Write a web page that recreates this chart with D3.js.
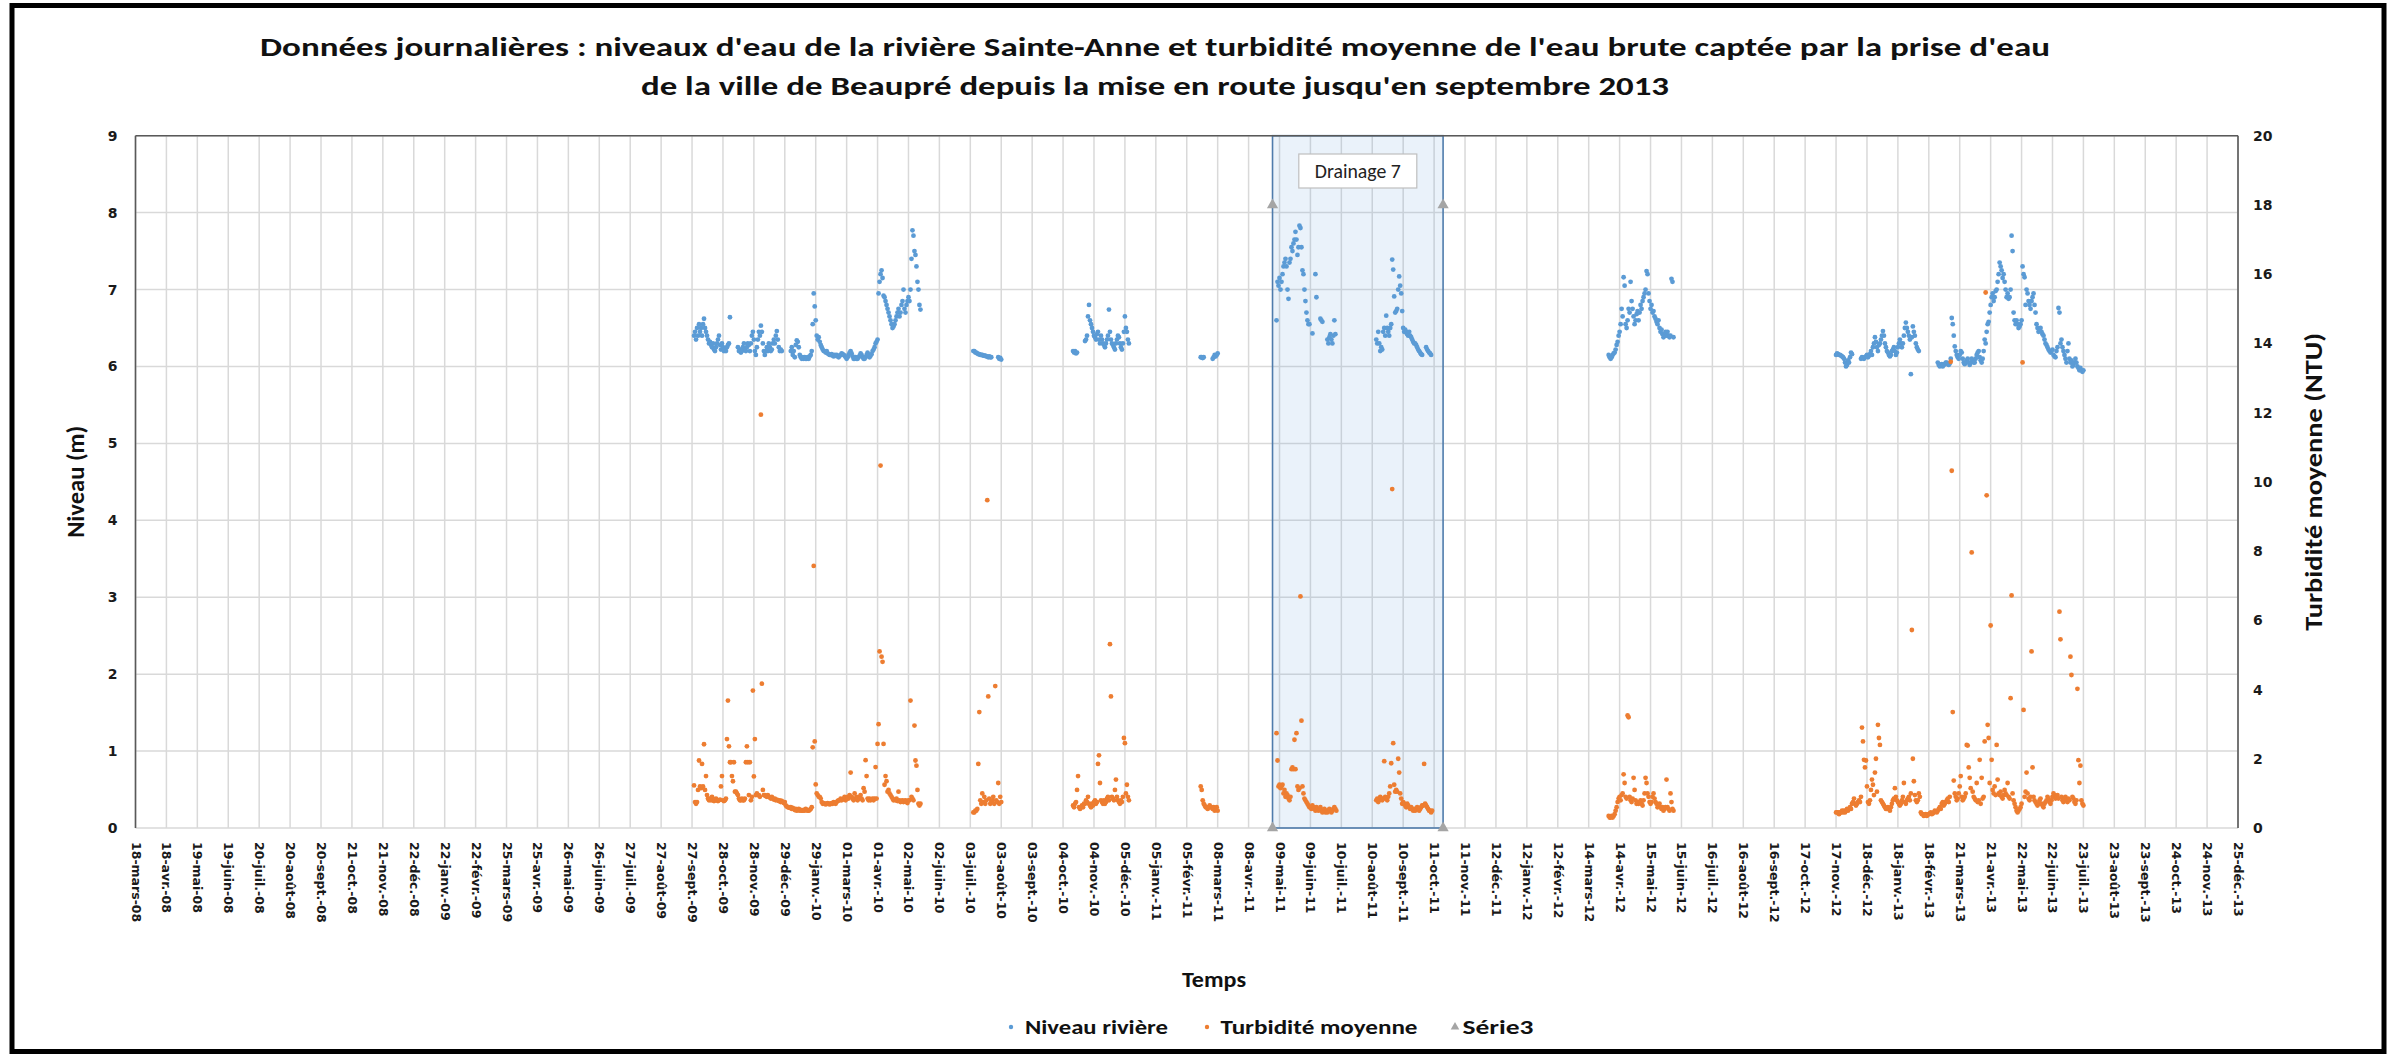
<!DOCTYPE html>
<html><head><meta charset="utf-8">
<script src="https://cdn.jsdelivr.net/npm/d3@7"></script>
<style>body{margin:0;background:#fff}svg{display:block}</style>
</head><body>
<svg id="c" width="2389" height="1054"></svg>
<script>
// ---------------- DATA ----------------
const axisStart = "2008-03-18", axisEnd = "2013-12-25", tickStepDays = 31;
const tickLabels = ["18-mars-08","18-avr.-08","19-mai-08","19-juin-08","20-juil.-08","20-août-08","20-sept.-08","21-oct.-08","21-nov.-08","22-déc.-08",
"22-janv.-09","22-févr.-09","25-mars-09","25-avr.-09","26-mai-09","26-juin-09","27-juil.-09","27-août-09","27-sept.-09","28-oct.-09","28-nov.-09","29-déc.-09",
"29-janv.-10","01-mars-10","01-avr.-10","02-mai-10","02-juin-10","03-juil.-10","03-août-10","03-sept.-10","04-oct.-10","04-nov.-10","05-déc.-10",
"05-janv.-11","05-févr.-11","08-mars-11","08-avr.-11","09-mai-11","09-juin-11","10-juil.-11","10-août-11","10-sept.-11","11-oct.-11","11-nov.-11","12-déc.-11",
"12-janv.-12","12-févr.-12","14-mars-12","14-avr.-12","15-mai-12","15-juin-12","16-juil.-12","16-août-12","16-sept.-12","17-oct.-12","17-nov.-12","18-déc.-12",
"18-janv.-13","18-févr.-13","21-mars-13","21-avr.-13","22-mai-13","22-juin-13","23-juil.-13","23-août-13","23-sept.-13","24-oct.-13","24-nov.-13","25-déc.-13"];

// first day of each run of daily measurements
const segmentStarts = ["2009-09-29","2010-07-06","2010-10-14","2011-02-19","2011-05-06","2011-08-14","2012-04-03","2012-11-17"];

// Niveau rivière (m), one value per day from the segment start (null = no data)
const niveau1 = [6.4,6.45,6.35,6.5,6.4,6.55,6.45,6.5,6.4,6.55,6.62,6.5,6.45,
6.4,6.35,6.3,6.32,6.28,6.25,6.3,6.22,6.2,6.25,6.3,6.35,6.4,6.28,6.22,
6.3,6.25,6.2,6.22,6.2,6.25,6.28,6.3,6.64,null,null,null,null,null,null,null,
6.25,6.2,6.22,6.18,6.2,6.25,6.3,6.22,6.2,6.25,6.3,6.28,6.2,
6.3,6.4,6.45,6.35,6.2,6.15,6.25,6.35,6.45,6.4,6.53,6.45,6.3,6.2,
6.15,6.2,6.25,6.2,6.3,6.25,6.2,6.22,6.3,6.35,6.3,6.4,6.46,6.35,6.25,6.2,6.22,6.2,
null,null,null,null,null,null,null,null,
6.2,6.25,6.15,6.2,6.12,6.28,6.34,6.32,6.25,6.15,6.12,
6.1,6.12,6.1,6.12,6.1,6.1,6.12,6.1,6.13,6.15,6.2,
6.55,6.95,6.78,6.6,6.4,6.35,6.38,6.32,6.28,6.25,6.22,6.2,
6.2,6.18,6.2,6.17,6.16,6.15,6.15,6.16,6.14,6.13,6.15,6.14,6.15,6.13,6.12,6.14,6.15,6.17,6.16,6.15,
6.14,6.12,6.1,6.12,6.15,6.18,6.2,6.17,6.13,6.1,6.1,6.12,6.1,6.1,6.12,6.14,6.17,6.15,6.12,6.1,6.1,6.12,6.15,6.18,6.15,6.12,6.14,6.16,
6.2,6.22,6.25,6.3,6.32,6.35,
6.95,7.1,7.2,7.25,7.15,6.92,6.9,6.85,6.8,6.75,6.7,6.65,6.6,6.55,6.5,6.52,
6.55,6.6,6.65,6.7,6.75,6.65,6.7,6.8,6.85,7.0,6.75,6.7,6.8,6.85,6.9,6.85,
7.0,7.4,7.77,7.7,7.5,7.45,7.3,7.1,7.0,6.8,6.74];
const niveau2 = [6.2,6.2,6.18,6.18,6.17,6.16,6.16,6.15,6.15,6.15,6.14,6.14,6.14,6.13,6.13,6.12,6.13,6.12,6.12,
null,null,null,null,null,null,6.12,6.1,6.11,6.09];
const niveau3 = [6.2,6.18,6.2,6.17,6.18,null,null,null,null,null,null,null,
6.33,6.35,6.4,6.65,6.8,6.6,6.55,6.5,6.45,6.4,6.38,6.35,6.42,6.45,6.35,6.3,6.4,6.35,6.3,6.28,
6.25,6.3,6.35,6.4,6.74,6.45,6.35,6.3,6.28,6.25,6.22,6.3,6.35,6.4,6.38,6.3,6.25,6.22,6.3,6.45,
6.65,6.5,6.45,6.35,6.3];
const niveau4 = [6.12,6.12,6.11,6.12,null,null,null,null,null,null,null,null,6.1,6.12,6.15,6.13,6.15,6.17];
const niveau5 = [6.6,7.1,7.05,7.15,7.0,7.1,7.2,7.3,7.35,7.4,7.3,7.0,6.88,7.35,7.4,
7.55,7.5,7.6,7.65,7.75,7.65,7.45,7.55,7.83,7.8,7.55,
7.25,7.2,7.0,6.85,6.7,6.6,6.55,6.55,null,null,6.43,null,null,7.2,6.9,null,null,null,
6.62,6.6,6.58,null,null,null,null,6.35,6.3,6.38,6.42,6.35,6.3,6.4,6.6,6.42];
const niveau6 = [6.35,6.3,6.45,6.3,6.2,6.25,6.22,6.45,6.5,6.4,
6.66,6.5,6.45,6.4,6.5,6.55,7.39,7.26,6.91,6.7,
6.72,6.75,7.0,7.17,7.05,6.95,6.72,6.5,6.45,6.48,
6.45,6.42,6.4,6.45,6.4,6.38,6.35,6.32,6.3,6.3,
6.28,6.25,6.22,6.2,6.18,6.16,6.15,null,null,null,
6.25,6.22,6.2,6.18,6.17,6.15];
const niveau7 = [6.15,6.12,6.1,6.12,6.15,6.17,6.18,6.22,6.28,6.32,
6.4,6.45,6.55,6.75,6.65,7.16,7.05,6.55,6.5,6.6,
6.75,6.7,7.1,6.85,6.75,6.65,6.55,6.6,6.68,6.72,
6.6,6.7,6.8,6.75,6.85,6.9,6.95,7.0,7.24,7.2,
6.95,6.85,6.75,6.8,6.7,6.72,6.65,6.62,6.58,6.55,
6.6,6.5,6.45,6.48,6.42,6.38,6.4,6.45,6.4,6.45,
6.4,6.38,6.4,7.14,7.1,6.38];
const niveau8 = [6.15,6.17,6.16,6.15,6.15,6.14,6.13,6.12,6.1,6.05,6.0,6.02,6.08,6.05,6.12,6.18,6.16,
null,null,null,null,null,null,null,null,
6.1,6.12,6.11,6.1,6.12,6.13,6.15,6.12,6.14,6.16,6.2,6.15,
6.25,6.3,6.38,6.32,6.25,6.2,6.28,6.3,6.35,6.4,6.46,6.4,6.3,6.25,6.2,6.18,
6.15,6.13,6.15,6.2,6.22,6.25,6.2,6.15,6.18,6.25,6.3,6.35,6.3,6.25,
6.3,6.4,6.5,6.57,6.5,6.45,6.4,6.35,5.9,6.38,6.52,6.45,6.4,6.3,6.25,6.22,6.2,
null,null,null,null,null,null,null,null,null,null,null,null,null,null,null,null,null,null,
6.05,6.02,6.0,6.02,6.03,6.0,6.02,6.03,6.05,6.05,6.03,6.02,6.04,6.1,
6.63,6.55,6.4,6.26,
6.2,6.15,6.12,6.1,6.15,6.2,6.18,6.1,6.05,6.03,6.05,6.08,6.1,6.05,6.02,6.05,6.1,6.08,6.05,6.05,6.1,6.15,6.18,6.2,6.12,6.08,6.05,6.1,6.2,6.35,6.3,6.45,
6.55,6.58,6.7,6.8,6.9,6.95,6.85,6.9,6.98,7.0,7.1,
7.2,7.35,7.3,7.25,7.15,7.2,7.1,
7.0,6.9,6.95,6.88,6.9,7.0,7.7,7.5,
6.7,6.6,6.55,6.6,6.55,6.5,6.52,6.55,6.6,
7.3,7.2,7.16,6.8,
7.0,6.95,6.85,6.8,6.75,6.85,6.9,6.95,6.8,6.7,
6.55,6.5,6.45,6.48,6.5,6.45,6.42,6.4,6.35,
6.3,6.28,6.25,6.22,6.2,6.18,6.2,6.22,6.15,6.13,6.12,6.2,6.25,
6.76,6.7,
6.3,6.35,6.25,6.2,6.15,6.1,6.05,6.2,6.3,
6.1,6.05,6.08,6.0,6.02,6.05,6.1,6.05,6.0,5.98,5.95,5.98,5.95,5.93,5.95];

// Turbidité moyenne (NTU), one value per day from the segment start
const turb1 = [1.23,0.75,0.7,0.75,1.1,1.95,1.2,1.15,1.85,1.2,2.42,1.1,1.5,0.95,
0.85,0.8,0.85,0.8,0.9,0.8,0.78,0.8,0.85,0.8,0.78,0.8,0.82,
1.2,1.5,0.8,0.78,0.8,0.85,
2.57,3.68,2.36,1.9,1.9,1.5,1.35,1.9,1.05,
1.05,1.0,0.95,0.85,0.8,0.8,0.85,0.8,0.8,0.85,
1.9,2.36,1.9,0.95,1.9,0.8,0.9,3.97,1.49,2.57,0.95,1.0,0.95,0.95,0.9,11.94,4.17,1.1,0.95,
0.95,0.92,0.9,0.95,0.9,0.88,0.85,0.9,0.85,0.82,0.85,0.8,0.82,0.8,0.78,0.8,0.75,0.78,0.75,0.72,0.75,
0.65,0.62,0.6,0.6,0.58,0.6,0.55,0.58,0.55,0.52,0.55,0.5,0.52,0.55,0.5,0.52,0.5,0.5,0.52,0.5,0.55,0.52,0.5,0.5,0.52,0.55,0.6,
2.33,7.57,2.5,1.26,
1.0,0.95,0.9,0.9,0.85,
0.75,0.7,0.72,0.7,0.68,0.7,0.72,0.7,0.68,0.7,0.72,0.7,0.75,0.72,0.7,0.75,0.78,0.8,
0.8,0.85,0.8,0.82,0.85,0.9,0.8,0.85,0.9,0.85,0.95,1.6,0.9,0.85,0.8,1.0,0.85,0.9,0.8,0.85,0.9,0.95,0.85,0.8,
1.15,1.05,1.96,1.5,0.85,0.8,0.85,0.8,0.82,0.85,0.8,0.85,
1.76,0.85,2.43,3.0,5.1,10.47,4.95,4.8,2.43,1.25,1.5,1.35,1.05,1.1,1.0,
0.95,0.9,0.85,0.8,0.82,0.8,0.85,0.78,1.05,0.8,0.75,0.78,0.8,0.75,0.78,0.8,0.75,0.72,0.8,0.8,
3.68,0.9,0.85,0.8,2.96,1.95,1.8,1.1,0.7,0.65,0.7];
const turb2 = [0.45,0.45,0.5,0.5,0.55,1.85,3.35,0.8,0.7,1.0,0.75,0.9,0.7,0.8,9.47,3.8,0.85,0.7,0.75,0.8,0.9,0.7,4.1,0.8,0.75,1.3,0.7,0.9,0.75];
const turb3 = [0.65,0.6,0.7,0.75,1.1,1.5,0.6,0.55,0.6,0.65,0.6,0.7,
0.7,0.8,0.75,0.9,0.7,0.65,0.6,0.7,0.65,0.75,0.8,0.7,0.75,
1.85,2.1,1.3,0.8,0.75,0.7,0.8,0.7,0.75,0.85,0.9,0.8,
5.31,3.8,0.9,0.85,0.8,1.1,1.4,0.9,0.8,0.75,0.7,0.8,0.75,0.9,
2.6,2.45,1.0,1.25,0.9,0.8];
const turb4 = [1.2,1.1,0.8,0.7,0.65,0.6,0.6,0.55,0.6,0.65,0.6,0.6,0.55,0.6,0.5,0.55,0.6,0.5];
const turb5 = [2.74,1.95,1.2,1.25,1.15,1.2,1.25,1.0,1.1,0.9,1.0,0.95,0.85,0.8,0.9,
1.7,1.75,1.7,2.55,1.7,2.74,1.2,1.1,1.15,6.69,3.1,1.2,1.0,0.85,0.8,0.75,0.7,0.65,0.6,
0.6,0.55,0.65,0.6,0.55,0.5,0.6,0.55,0.5,0.55,0.6,0.5,0.45,0.5,0.55,0.45,0.5,0.45,0.5,0.55,0.5,0.45,0.5,0.55,0.6,0.55,0.5];
const turb6 = [0.8,0.85,0.75,0.8,0.9,0.85,0.8,0.85,1.93,0.9,
0.85,0.8,0.9,1.0,1.2,1.87,9.79,2.45,1.25,1.05,
1.1,1.05,2.0,1.6,1.0,0.85,0.7,0.75,0.7,0.65,
0.6,0.7,0.65,0.6,0.55,0.6,0.55,0.5,0.55,0.5,
0.55,0.6,0.55,0.5,0.55,0.6,0.65,0.65,1.85,0.7,
0.65,0.6,0.55,0.5,0.5,0.45,0.5];
const turb7 = [0.35,0.3,0.3,0.35,0.3,0.35,0.4,0.5,0.6,0.75,
0.85,0.9,0.8,0.95,1.0,1.55,1.3,0.9,0.85,3.25,
3.2,0.9,0.8,0.75,0.85,1.45,1.1,0.8,0.7,0.75,
0.7,0.75,0.8,0.7,0.65,0.8,1.0,1.45,1.3,1.0,
0.9,0.75,0.7,0.75,0.9,1.0,0.85,0.75,0.7,0.6,
0.65,0.7,0.6,0.55,0.6,0.5,0.55,0.6,1.4,0.6,
0.55,0.5,1.0,0.75,0.55,0.5];
const turb8 = [0.45,0.45,0.45,0.4,0.45,0.45,0.5,0.45,0.5,0.45,0.5,0.55,0.5,0.55,0.6,0.55,
0.7,0.75,0.85,0.7,0.65,0.7,0.75,0.8,0.75,
0.9,2.9,2.5,1.97,1.75,1.95,1.2,0.75,0.7,0.8,1.1,1.4,1.25,0.95,1.6,2.0,1.05,2.98,2.6,2.4,0.8,0.75,
0.7,0.65,0.6,0.55,0.55,0.6,0.55,0.5,0.6,0.7,0.8,0.85,
1.15,0.9,0.8,0.75,0.7,0.65,0.7,0.8,0.9,1.3,0.75,0.7,0.8,0.85,0.9,0.8,1.0,5.72,2.0,1.35,0.95,0.8,0.75,0.8,1.0,0.9,
0.45,0.4,0.4,0.35,0.38,0.4,0.35,0.38,0.4,0.42,0.45,0.4,0.42,0.45,0.5,0.48,0.45,0.5,0.55,0.6,0.55,
0.7,0.75,0.65,0.7,0.75,0.8,0.85,0.75,0.9,
13.47,10.32,3.35,1.37,
1.0,0.9,0.8,0.85,1.0,1.2,1.5,0.9,0.8,0.85,0.9,1.0,
2.4,2.38,1.75,1.45,1.15,7.96,1.05,0.9,0.85,0.8,
1.3,0.75,0.8,1.97,0.7,1.45,0.85,0.9,2.5,15.47,
9.61,2.98,2.6,1.3,5.85,1.97,1.1,1.0,1.2,0.95,2.4,1.4,1.0,0.95,1.05,0.9,
0.85,0.95,1.1,1.0,0.95,1.3,0.9,0.85,3.75,6.72,1.0,0.8,
0.7,0.6,0.5,0.45,0.5,0.55,0.6,0.7,
13.45,3.41,0.9,1.05,1.6,1.0,0.85,0.8,0.9,5.1,1.75,0.9,
0.8,0.75,0.7,0.65,0.7,0.8,0.85,0.7,0.65,0.6,0.7,0.75,0.8,0.9,0.85,0.75,0.7,0.8,0.9,1.0,0.95,0.85,
0.9,0.95,0.85,6.25,5.45,0.9,0.8,0.75,0.85,0.9,0.8,0.75,0.85,
0.8,4.95,4.42,0.9,0.85,0.75,0.7,0.8,4.02,1.96,1.3,1.8,0.8,0.7,0.65];

// Série3 : bornes de la période "Drainage 7"
const drainageLabel = "Drainage 7";
const serie3Dates = ["2011-05-02","2011-05-02","2011-10-20","2011-10-20"];
const serie3Values = [0, 18, 18, 0];

const niveauSegments = [niveau1,niveau2,niveau3,niveau4,niveau5,niveau6,niveau7,niveau8];
const turbSegments = [turb1,turb2,turb3,turb4,turb5,turb6,turb7,turb8];

// ---------------- DRAWING ----------------
const W = 2389, H = 1054;
const P = {l:135.5, r:2238, t:135.7, b:828};
const parse = d3.utcParse("%Y-%m-%d");
const x = d3.scaleUtc().domain([parse(axisStart), parse(axisEnd)]).range([P.l, P.r]);
const yL = d3.scaleLinear().domain([0, 9]).range([P.b, P.t]);
const yR = d3.scaleLinear().domain([0, 20]).range([P.b, P.t]);
const tickDates = tickLabels.map((_, i) => d3.utcDay.offset(parse(axisStart), i * tickStepDays));

const CAL = "Carlito, 'Liberation Sans Narrow', 'Liberation Sans', Arial, sans-serif";
const VER = "'DejaVu Sans', Verdana, sans-serif";

const svg = d3.select("#c");
svg.append("rect").attr("width", W).attr("height", H).attr("fill", "#fff");

// gridlines
const grid = svg.append("g");
grid.selectAll("line.h").data(yL.ticks(9)).join("line").attr("class","h")
  .attr("x1", P.l).attr("x2", P.r).attr("y1", d => yL(d)).attr("y2", d => yL(d))
  .attr("stroke", "#d9d9d9").attr("stroke-width", 1.5);
grid.selectAll("line.v").data(tickDates).join("line").attr("class","v")
  .attr("x1", d => x(d)).attr("x2", d => x(d)).attr("y1", P.t).attr("y2", P.b)
  .attr("stroke", "#d9d9d9").attr("stroke-width", 1.5);

// drainage period band
const dx0 = x(parse(serie3Dates[0])), dx1 = x(parse(serie3Dates[2]));
svg.append("rect").attr("x", dx0).attr("y", P.t).attr("width", dx1 - dx0).attr("height", P.b - P.t)
  .attr("fill", "#5b9bd5").attr("fill-opacity", 0.13)
  .attr("stroke", "#4f7cac").attr("stroke-width", 1.6);

function toPoints(segs) {
  return segs.flatMap((vals, k) => vals.map((v, i) => ({date: d3.utcDay.offset(parse(segmentStarts[k]), i), v}))
    .filter(p => p.v != null));
}
svg.append("g").selectAll("circle").data(toPoints(niveauSegments)).join("circle")
  .attr("cx", d => x(d.date)).attr("cy", d => yL(d.v)).attr("r", 2.4).attr("fill", "#5b9bd5");
svg.append("g").selectAll("circle").data(toPoints(turbSegments)).join("circle")
  .attr("cx", d => x(d.date)).attr("cy", d => yR(d.v)).attr("r", 2.4).attr("fill", "#ed7d31");

// plot frame
const frame = svg.append("g").attr("stroke", "#595959").attr("stroke-width", 1.6);
frame.append("line").attr("x1", P.l).attr("x2", P.r).attr("y1", P.t).attr("y2", P.t);
frame.append("line").attr("x1", P.l).attr("x2", P.l).attr("y1", P.t).attr("y2", P.b);
frame.append("line").attr("x1", P.r).attr("x2", P.r).attr("y1", P.t).attr("y2", P.b);

// Série3 triangles
const tri = d3.symbol().type(d3.symbolTriangle).size(55);
svg.append("g").selectAll("path").data(serie3Dates.map((d, i) => ({d: parse(d), v: serie3Values[i]}))).join("path")
  .attr("d", tri).attr("transform", d => `translate(${x(d.d)},${yR(d.v)})`).attr("fill", "#a5a5a5");

// label box
const bx = (dx0 + dx1) / 2;
svg.append("rect").attr("x", bx - 59).attr("y", 154).attr("width", 118).attr("height", 34)
  .attr("fill", "#fff").attr("stroke", "#bfbfbf").attr("stroke-width", 1.2);
svg.append("text").attr("x", bx).attr("y", 178).attr("text-anchor", "middle")
  .attr("font-family", CAL).attr("font-size", 20).attr("fill", "#222")
  .attr("textLength", 86).attr("lengthAdjust", "spacingAndGlyphs").text(drainageLabel);

// axes
const axL = svg.append("g").attr("transform", `translate(${P.l},0)`)
  .call(d3.axisLeft(yL).ticks(9).tickSize(0).tickPadding(18));
const axR = svg.append("g").attr("transform", `translate(${P.r},0)`)
  .call(d3.axisRight(yR).ticks(10).tickSize(0).tickPadding(15));
const axB = svg.append("g").attr("transform", `translate(0,${P.b})`)
  .call(d3.axisBottom(x).tickValues(tickDates).tickFormat((d, i) => tickLabels[i]).tickSize(0));
[axL, axR, axB].forEach(a => {
  a.select(".domain").remove();
  a.selectAll("text").attr("font-family", VER).attr("font-weight", "bold").attr("fill", "#1a1a1a");
});
axL.selectAll("text").attr("font-size", 14);
axR.selectAll("text").attr("font-size", 14);
axB.selectAll("text").attr("font-size", 12.5)
  .attr("transform", "rotate(90)").attr("x", 14).attr("y", 0).attr("dy", "0.36em").attr("text-anchor", "start");

// titles
const title = svg.append("g").attr("font-family", CAL).attr("font-weight", "bold").attr("fill", "#111")
  .attr("font-size", 27).attr("text-anchor", "middle");
title.append("text").attr("x", 1155).attr("y", 56).attr("textLength", 1790).attr("lengthAdjust", "spacingAndGlyphs")
  .text("Données journalières : niveaux d'eau de la rivière Sainte-Anne et turbidité moyenne de l'eau brute captée par la prise d'eau");
title.append("text").attr("x", 1155).attr("y", 95).attr("textLength", 1028).attr("lengthAdjust", "spacingAndGlyphs")
  .text("de la ville de Beaupré depuis la mise en route jusqu'en septembre 2013");

svg.append("text").attr("transform", `translate(84,${(P.t + P.b) / 2}) rotate(-90)`).attr("text-anchor", "middle")
  .attr("font-family", CAL).attr("font-size", 24).attr("font-weight", 600).attr("fill", "#111")
  .attr("textLength", 112).attr("lengthAdjust", "spacingAndGlyphs").text("Niveau (m)");
svg.append("text").attr("transform", `translate(2322,${(P.t + P.b) / 2}) rotate(-90)`).attr("text-anchor", "middle")
  .attr("font-family", CAL).attr("font-size", 24).attr("font-weight", 600).attr("fill", "#111")
  .attr("textLength", 298).attr("lengthAdjust", "spacingAndGlyphs").text("Turbidité moyenne (NTU)");
svg.append("text").attr("x", 1214).attr("y", 987).attr("text-anchor", "middle")
  .attr("font-family", CAL).attr("font-weight", "bold").attr("font-size", 22).attr("fill", "#111")
  .attr("textLength", 64).attr("lengthAdjust", "spacingAndGlyphs").text("Temps");

// legend
const lg = svg.append("g").attr("font-family", CAL).attr("font-size", 20).attr("font-weight", 600).attr("fill", "#111");
lg.append("circle").attr("cx", 1011).attr("cy", 1027).attr("r", 2.2).attr("fill", "#5b9bd5");
lg.append("text").attr("x", 1025).attr("y", 1034).attr("textLength", 143).attr("lengthAdjust", "spacingAndGlyphs").text("Niveau rivière");
lg.append("circle").attr("cx", 1207).attr("cy", 1027).attr("r", 2.2).attr("fill", "#ed7d31");
lg.append("text").attr("x", 1220.5).attr("y", 1034).attr("textLength", 197).attr("lengthAdjust", "spacingAndGlyphs").text("Turbidité moyenne");
lg.append("path").attr("d", d3.symbol().type(d3.symbolTriangle).size(32)).attr("transform", "translate(1455,1027)").attr("fill", "#a5a5a5");
lg.append("text").attr("x", 1462.5).attr("y", 1034).attr("textLength", 71).attr("lengthAdjust", "spacingAndGlyphs").text("Série3");

// outer border
svg.append("rect").attr("x", 12).attr("y", 5.5).attr("width", 2372).attr("height", 1046)
  .attr("fill", "none").attr("stroke", "#000").attr("stroke-width", 5);
</script>
</body></html>
